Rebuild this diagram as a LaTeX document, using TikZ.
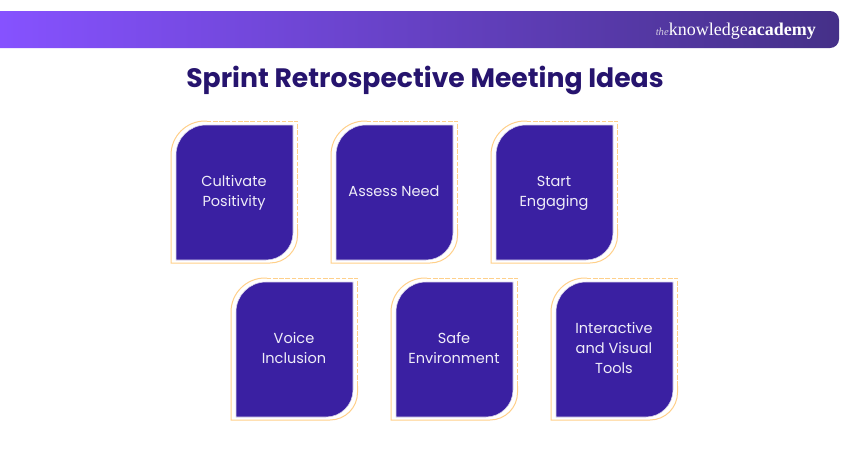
\documentclass[tikz,border=0pt]{standalone}
\usepackage{fontspec}
\setmainfont{Poppins}
\newfontfamily\logofont{Liberation Serif}
\definecolor{cardfill}{HTML}{3A20A2}
\definecolor{cardline}{HTML}{FFD08A}
\definecolor{titleink}{HTML}{26146E}
\definecolor{barleft}{HTML}{8652FF}
\definecolor{barmid}{HTML}{6A45CC}
\definecolor{barright}{HTML}{453088}
\tikzset{
  cardlabel/.style={text=white!92!cardfill,font=\fontsize{10.9pt}{15pt}\selectfont,align=center,inner sep=0pt},
  outlinesolid/.style={draw=cardline,line width=0.75pt},
  outlinedash/.style={draw=cardline,line width=0.75pt,dash pattern=on 3.5pt off 1.2pt},
}
\newcommand{\card}[5]{%
 \begin{scope}[shift={(#1,#2)}]
  \draw[outlinesolid] (36,0) -- (34,0) arc[start angle=-90,end angle=-180,radius=34] -- (0,142) -- (99,142) arc[start angle=90,end angle=0,radius=27.5] -- (126.5,108);
  \draw[outlinedash] (126.5,108) -- (126.5,0) -- (36,0);
  \fill[cardfill,draw=white!82!cardfill,line width=0.4pt] (122,4) -- (35,4) arc[start angle=-90,end angle=-180,radius=30] -- (5,139) -- (95,139) arc[start angle=90,end angle=0,radius=27] -- cycle;
  \node[cardlabel] (#3) at (63,#5) {#4};
 \end{scope}}
\begin{document}
\begin{tikzpicture}[x=0.75pt,y=-0.75pt]
\useasboundingbox (0,0) rectangle (850,450);
\fill[white] (0,0) rectangle (850,450);
\begin{scope}
  \clip (0,11) -- (830,11) arc[start angle=-90,end angle=0,radius=9] -- (839,39) arc[start angle=0,end angle=90,radius=9] -- (0,48) -- cycle;
  \shade[left color=barleft,middle color=barmid,right color=barright] (0,11) rectangle (839,48);
\end{scope}
\node[inner sep=0pt,text=white,anchor=base west] (logo) at (655.5,35) {\logofont\fontsize{8pt}{8pt}\selectfont\textit{\color{white!75!barright}the}\fontsize{13.5pt}{13.5pt}\selectfont knowledge\textbf{academy}};
\node[inner sep=0pt,text=titleink,font=\bfseries\fontsize{20pt}{24pt}\selectfont] (title) at (425,80.5) {Sprint Retrospective Meeting Ideas};
\card{171}{121}{c1}{Cultivate\\Positivity}{72}
\card{331}{121}{c2}{Assess Need}{70}
\card{491}{121}{c3}{Start\\Engaging}{72}
\card{231}{278}{c4}{Voice\\Inclusion}{70}
\card{391}{278}{c5}{Safe\\Environment}{70}
\card{551}{278}{c6}{Interactive\\and Visual\\Tools}{70}
\end{tikzpicture}
\end{document}
